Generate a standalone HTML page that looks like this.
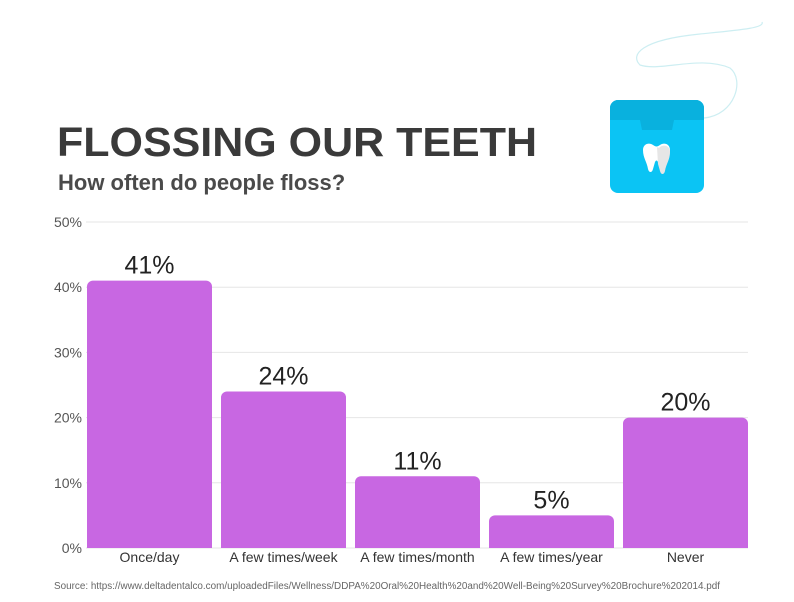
<!DOCTYPE html>
<html><head><meta charset="utf-8"><style>
body{margin:0;width:794px;height:597px;background:#fff;overflow:hidden;font-family:"Liberation Sans",sans-serif}
</style></head><body>
<svg width="794" height="597" xmlns="http://www.w3.org/2000/svg">
<path d="M762 22 C765 28 740 30 700 34 C640 40 630 55 640 65 C660 72 700 55 730 68 C745 80 735 115 704 118" fill="none" stroke="#cdeef2" stroke-width="1.2"/>
<g>
<rect x="610" y="100" width="94" height="93" rx="8" fill="#0bc4f4"/>
<path d="M610 108 a8 8 0 0 1 8 -8 h78 a8 8 0 0 1 8 8 v12 h-30 l-2 10 h-30 l-2 -10 h-30z" fill="#09b1de"/>
<path d="M643 150 c0 -6 6 -8 10 -5 c3 2 4 2 7 0 c4 -3 10 -1 10 5 c0 8 -4 12 -5 19 c-1 4 -4 4 -5 0 l-2 -7 c-1 -2 -2 -2 -3 0 l-2 7 c-1 4 -4 4 -5 0 c-1 -7 -5 -11 -5 -19z" fill="#fff"/>
<path d="M657 147 c1 1 2 1 3 0 c4 -3 10 -1 10 5 c0 8 -4 12 -5 19 c-1 4 -4 4 -5 0 l-2 -7z" fill="#e6e6e6"/>
</g>
<text x="57" y="156" font-size="41" font-weight="bold" fill="#3a3a3a" textLength="480" lengthAdjust="spacingAndGlyphs">FLOSSING OUR TEETH</text>
<text x="58" y="190" font-size="22" font-weight="bold" fill="#4a4a4a">How often do people floss?</text>
<g id="grid"></g><g id="bars"></g>
<text x="54" y="589" font-size="10" fill="#666" textLength="666" lengthAdjust="spacingAndGlyphs">Source: https://www.deltadentalco.com/uploadedFiles/Wellness/DDPA%20Oral%20Health%20and%20Well-Being%20Survey%20Brochure%202014.pdf</text>
</svg>
<script>
const categories=["Once/day","A few times/week","A few times/month","A few times/year","Never"];
const values=[41,24,11,5,20];
const ticks=[0,10,20,30,40,50];
const NS="http://www.w3.org/2000/svg";
const y=v=>548-v*6.52;
const x=i=>87+i*134;
const g=document.getElementById('grid'),b=document.getElementById('bars');
function mk(tag,attrs,parent,txt){const e=document.createElementNS(NS,tag);for(const k in attrs)e.setAttribute(k,attrs[k]);if(txt!==undefined)e.textContent=txt;parent.appendChild(e);return e;}
ticks.forEach(t=>{
 const l=mk('line',{x1:86,x2:748,y1:y(t),y2:y(t),stroke:'#e6e6e6','stroke-width':1},g);
 
 
 const tx=mk('text',{x:82,y:y(t)+5,'text-anchor':'end','font-size':14,fill:'#555'},g,t+'%');
 
 
});
values.forEach((v,i)=>{
 const h=548-y(v),r=Math.min(6,h/2);
 const p=mk('path',{d:`M${x(i)} 548 V${y(v)+r} a${r} ${r} 0 0 1 ${r} ${-r} H${x(i)+125-r} a${r} ${r} 0 0 1 ${r} ${r} V548 Z`,fill:'#c867e2'},b);
 
 
 const vl=mk('text',{x:x(i)+62.5,y:y(v)-7,'text-anchor':'middle','font-size':25,fill:'#222'},b,v+'%');
 
 
 const cl=mk('text',{x:x(i)+62.5,y:562,'text-anchor':'middle','font-size':14,fill:'#333'},b,categories[i]);
 
 
});
</script>
</body></html>
